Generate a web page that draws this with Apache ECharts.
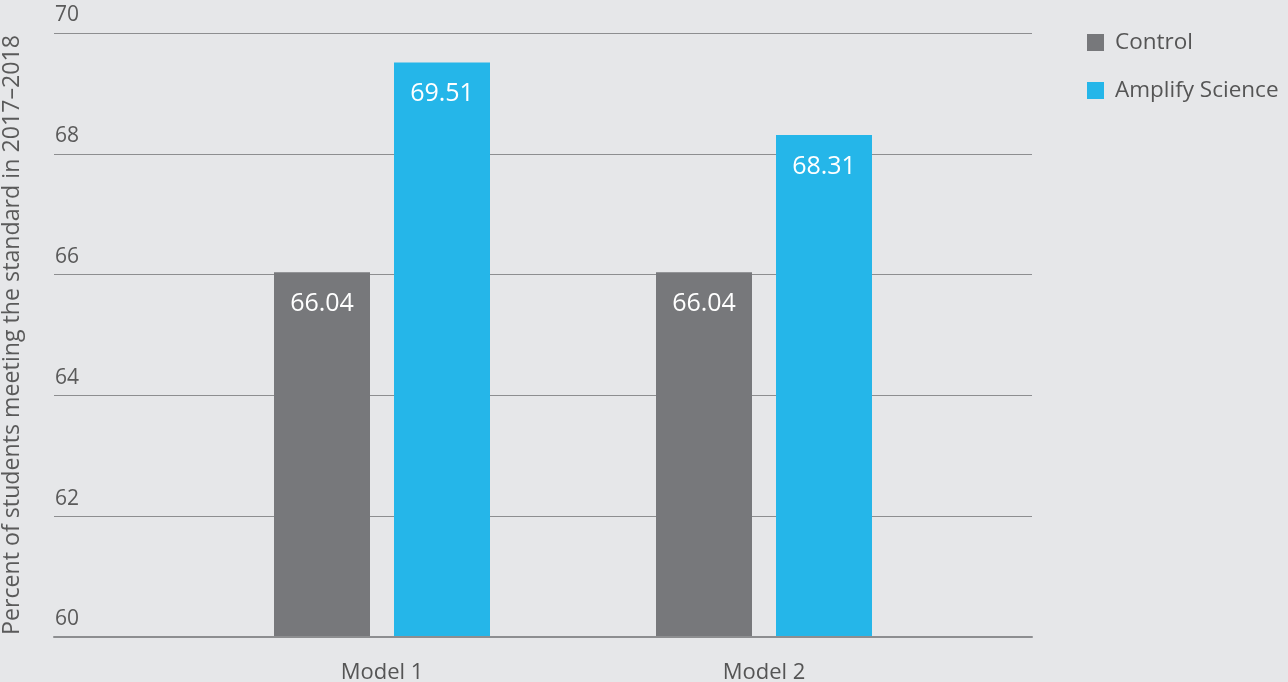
<!DOCTYPE html>
<html><head><meta charset="utf-8">
<style>html,body{margin:0;padding:0;background:#e6e7e9;}#c{width:1288px;height:682px;}</style>
<script src="https://cdn.jsdelivr.net/npm/echarts@6/dist/echarts.min.js"></script>
</head><body><div id="c"></div>
<script>
const categories = ['Model 1', 'Model 2'];
const seriesNames = ['Control', 'Amplify Science'];
const controlValues = [66.04, 66.04];
const amplifyValues = [69.51, 68.31];
const yTicks = { min: 60, max: 70, interval: 2 };
const yAxisTitle = 'Percent of students meeting the standard in 2017–2018';

const FONT = 'Open Sans';
const chart = echarts.init(document.getElementById('c'), null, { renderer: 'canvas' });
const barLabel = { show: true, position: 'insideTop', distance: 19, color: '#ffffff', fontSize: 25, fontFamily: FONT, formatter: p => p.value.toFixed(2) };
chart.setOption({
  backgroundColor: '#e6e7e9',
  animation: false,
  textStyle: { fontFamily: FONT },
  legend: {
    orient: 'vertical', left: 1082, top: 26, itemWidth: 17, itemHeight: 17, itemGap: 25,
    icon: 'rect',
    textStyle: { fontSize: 22.5, color: '#555', fontFamily: FONT, padding: [0, 0, 0, 6] },
    data: seriesNames
  },
  grid: [
    { left: 54, right: 256, top: 33, bottom: 45, outerBoundsMode: 'none', containLabel: false },
    { left: 191, right: 333, top: 33, bottom: 45, outerBoundsMode: 'none', containLabel: false }
  ],
  xAxis: [
    { gridIndex: 0, type: 'category', data: categories, axisLabel: { show: false }, axisTick: { show: false },
      axisLine: { show: true, lineStyle: { color: '#8d8e90', width: 2 } }, z: 10 },
    { gridIndex: 1, type: 'category', data: categories, axisLine: { show: false }, axisTick: { show: false },
      axisLabel: { fontSize: 22, color: '#555', margin: 25, fontFamily: FONT } }
  ],
  yAxis: [
    { gridIndex: 0, type: 'value', min: yTicks.min, max: yTicks.max, interval: yTicks.interval,
      name: yAxisTitle, nameLocation: 'middle', nameGap: 30,
      nameTextStyle: { fontSize: 23.2, color: '#5a5a5a', fontFamily: FONT },
      axisLine: { show: false }, axisTick: { show: false },
      axisLabel: { inside: true, margin: 0, align: 'left', verticalAlign: 'bottom', padding: [0, 0, 7, 1], fontSize: 21, color: '#5a5a5a', fontFamily: FONT },
      splitLine: { show: true, lineStyle: { color: '#8d8e90', width: 1 } } },
    { gridIndex: 1, type: 'value', min: yTicks.min, max: yTicks.max, interval: yTicks.interval, show: false, splitLine: { show: false } }
  ],
  series: [
    { name: seriesNames[0], type: 'bar', xAxisIndex: 1, yAxisIndex: 1, data: controlValues, barWidth: 96, barGap: '25%',
      itemStyle: { color: '#77787b' }, label: barLabel },
    { name: seriesNames[1], type: 'bar', xAxisIndex: 1, yAxisIndex: 1, data: amplifyValues, barWidth: 96, barGap: '25%',
      itemStyle: { color: '#25b6e9' }, label: barLabel }
  ]
});
</script></body></html>
